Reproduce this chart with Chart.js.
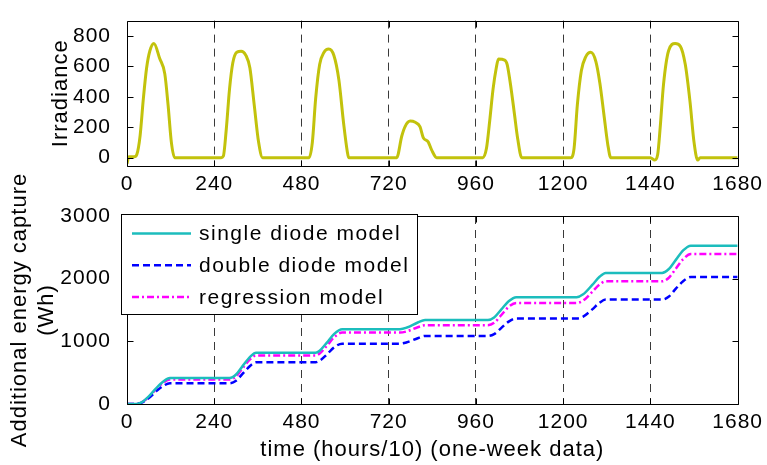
<!DOCTYPE html>
<html>
<head>
<meta charset="utf-8">
<script src="https://cdn.jsdelivr.net/npm/chart.js@4.4.0/dist/chart.umd.min.js"></script>
<style>
    body { margin: 0; background: #fff; }
    #wrap { position: relative; width: 767px; height: 465px; }
    #irrChart { position: absolute; left: 0; top: 0; }
    #energyChart { position: absolute; left: 0; top: 140px; }
</style>
</head>
<body>
<div id="wrap">
    <canvas id="irrChart" width="767" height="200"></canvas>
    <canvas id="energyChart" width="767" height="325"></canvas>
</div>
<script>
// irradiance (top plot), one week at 6 minute steps
const irrTime = [0, 5, 20, 27, 36, 45, 54, 63, 74, 90, 104, 113, 122, 131,
    259, 265, 273, 282, 291, 302, 314, 327, 338, 350, 362, 373,
    501, 510, 519, 530, 542, 555, 569, 583, 596, 606, 610,
    742, 756, 765, 779, 793, 806, 815, 829, 838, 852,
    979, 989, 998, 1007, 1016, 1022, 1039, 1046, 1057, 1066, 1075, 1086,
    1221, 1230, 1239, 1250, 1262, 1276, 1290, 1301, 1312, 1323, 1331,
    1440, 1452, 1460, 1467, 1476, 1490, 1508, 1522, 1536, 1549, 1560, 1570, 1577, 1680];
const irrValue = [-40, 5, 5, 20, 143, 387, 590, 702, 750, 651, 550, 346, 102, 0,
    0, 10, 183, 448, 621, 692, 699, 672, 590, 346, 102, 0,
    0, 102, 387, 611, 692, 713, 672, 509, 224, 41, 0,
    0, 142, 204, 240, 232, 204, 132, 102, 51, 0,
    0, 61, 244, 448, 590, 647, 641, 611, 448, 285, 122, 0,
    0, 61, 346, 570, 662, 692, 631, 489, 285, 82, 0,
    0, -16, 20, 200, 480, 702, 749, 733, 611, 366, 102, -16, 0, 0];

// additional energy capture (bottom plot)
const energyTime = [0, 20, 30, 45, 60, 80, 100, 118,
    282, 300, 320, 340, 355,
    519, 530, 550, 570, 592,
    751, 770, 800, 820,
    993, 1010, 1030, 1050, 1071,
    1237, 1255, 1280, 1300, 1317,
    1472, 1490, 1510, 1530, 1551,
    1680];
const singleDiode = [0, 0, 5, 45, 120, 250, 360, 414,
    414, 470, 620, 760, 817,
    817, 850, 980, 1120, 1194,
    1194, 1220, 1300, 1339,
    1339, 1380, 1510, 1640, 1705,
    1705, 1750, 1900, 2030, 2092,
    2092, 2150, 2300, 2450, 2527,
    2527];
const doubleDiode = [0, 0, 4, 35, 95, 200, 290, 330,
    330, 370, 495, 615, 666,
    666, 690, 790, 905, 963,
    963, 985, 1050, 1086,
    1086, 1115, 1215, 1315, 1366,
    1366, 1395, 1510, 1615, 1666,
    1666, 1710, 1840, 1960, 2027,
    2027];
const regression = [0, 0, 5, 42, 112, 235, 340, 390,
    390, 440, 585, 720, 774,
    774, 805, 930, 1065, 1140,
    1140, 1160, 1225, 1258,
    1258, 1295, 1420, 1550, 1613,
    1613, 1650, 1790, 1905, 1957,
    1957, 2010, 2160, 2310, 2392,
    2392];

const xTicks = [0, 240, 480, 720, 960, 1200, 1440, 1680];
const irrTicks = [0, 200, 400, 600, 800];
const energyTicks = [0, 1000, 2000, 3000];

const FONT = '"Liberation Sans", Arial, sans-serif';
Chart.defaults.font.family = FONT;
Chart.defaults.color = '#000';

function pts(xs, ys) {
    return xs.map((x, i) => ({ x: x, y: ys[i] }));
}

// matlab text is a bit wider than arial, add some letter spacing
const spacing = {
    id: 'spacing',
    beforeDraw(chart) {
        chart.ctx.letterSpacing = '1px';
    }
};

// box round the plot plus small inward ticks
const framePlugin = {
    id: 'frame',
    afterDraw(chart) {
        const { ctx, chartArea: a, scales } = chart;
        const l = Math.round(a.left) + 0.5, r = Math.round(a.right) + 0.5;
        const t = Math.round(a.top) + 0.5, b = Math.round(a.bottom) + 0.5;
        ctx.save();
        ctx.strokeStyle = '#000';
        ctx.lineWidth = 1;
        ctx.beginPath();
        ctx.rect(l, t, r - l, b - t);
        scales.y.ticks.forEach(tk => {
            const py = Math.round(scales.y.getPixelForValue(tk.value)) + 0.5;
            ctx.moveTo(l, py); ctx.lineTo(l + 6, py);
            ctx.moveTo(r, py); ctx.lineTo(r - 6, py);
        });
        scales.x.ticks.forEach(tk => {
            const px = Math.round(scales.x.getPixelForValue(tk.value)) + 0.5;
            ctx.moveTo(px, b); ctx.lineTo(px, b - 6);
            ctx.moveTo(px, t); ctx.lineTo(px, t + 6);
        });
        ctx.stroke();
        ctx.restore();
    }
};

// legend in a white box over the upper left corner
const boxLegend = {
    id: 'boxLegend',
    afterDraw(chart) {
        const { ctx, chartArea: a } = chart;
        const x0 = Math.round(a.left) - 6, y0 = Math.round(a.top) - 2;
        const w = 296, h = 100;
        ctx.save();
        ctx.fillStyle = '#fff';
        ctx.fillRect(x0, y0, w, h);
        ctx.strokeStyle = '#000';
        ctx.lineWidth = 1;
        ctx.strokeRect(x0 + 0.5, y0 + 0.5, w, h);
        chart.data.datasets.forEach((ds, i) => {
            const cy = y0 + 19.5 + i * 31.7;
            ctx.beginPath();
            ctx.setLineDash(ds.borderDash || []);
            ctx.strokeStyle = ds.borderColor;
            ctx.lineWidth = ds.borderWidth;
            ctx.moveTo(x0 + 11, cy);
            ctx.lineTo(x0 + 70, cy);
            ctx.stroke();
            ctx.setLineDash([]);
            ctx.fillStyle = '#000';
            ctx.font = '21px ' + FONT;
            ctx.letterSpacing = '1.5px';
            ctx.textBaseline = 'middle';
            ctx.fillText(ds.label, x0 + 78, cy + 1);
        });
        ctx.restore();
    }
};

function xScale(height, title) {
    return {
        type: 'linear',
        min: 0,
        max: 1680,
        afterBuildTicks: s => { s.ticks = xTicks.map(v => ({ value: v })); },
        afterFit: s => { s.height = height; },
        ticks: { font: { size: 21 }, padding: 6, maxRotation: 0, autoSkip: false, callback: v => String(v) },
        grid: {
            drawTicks: false,
            lineWidth: 1,
            color: c => (c.tick && c.tick.value > 0 && c.tick.value < 1680) ? '#3a3a3a' : 'rgba(0,0,0,0)'
        },
        border: { display: false, dash: [8, 6] },
        title: title
    };
}

function yScale(min, max, ticks, title) {
    return {
        type: 'linear',
        min: min,
        max: max,
        afterBuildTicks: s => { s.ticks = ticks.map(v => ({ value: v })); },
        afterFit: s => { s.width = 127; },
        ticks: { font: { size: 21 }, padding: 8, callback: v => String(v) },
        grid: { display: false },
        border: { display: false },
        title: title
    };
}

const irrChart = new Chart(document.getElementById('irrChart'), {
    type: 'line',
    data: {
        datasets: [{
            label: 'Irradiance',
            data: pts(irrTime, irrValue),
            borderColor: '#c2c20c',
            borderWidth: 3,
            pointRadius: 0,
            cubicInterpolationMode: 'monotone',
            fill: false
        }]
    },
    options: {
        responsive: false,
        animation: false,
        layout: { padding: { top: 9, right: 26, left: 0, bottom: 0 } },
        plugins: { legend: { display: false }, tooltip: { enabled: false } },
        scales: {
            x: xScale(34, { display: false }),
            y: yScale(-55, 900, irrTicks, {
                display: true,
                text: 'Irradiance',
                font: { size: 22 },
                padding: { top: 48, bottom: 0 }
            })
        }
    },
    plugins: [spacing, framePlugin]
});

const energyChart = new Chart(document.getElementById('energyChart'), {
    type: 'line',
    data: {
        datasets: [{
            label: 'single diode model',
            data: pts(energyTime, singleDiode),
            borderColor: '#1cbdbd',
            borderWidth: 2.5,
            pointRadius: 0,
            cubicInterpolationMode: 'monotone'
        }, {
            label: 'double diode model',
            data: pts(energyTime, doubleDiode),
            borderColor: '#0000ff',
            borderWidth: 2.5,
            borderDash: [7, 4],
            pointRadius: 0,
            cubicInterpolationMode: 'monotone'
        }, {
            label: 'regression model',
            data: pts(energyTime, regression),
            borderColor: '#ff00ff',
            borderWidth: 2.5,
            borderDash: [7, 3, 2, 3],
            pointRadius: 0,
            cubicInterpolationMode: 'monotone'
        }]
    },
    options: {
        responsive: false,
        animation: false,
        layout: { padding: { top: 76, right: 26, left: 0, bottom: 0 } },
        plugins: { legend: { display: false }, tooltip: { enabled: false } },
        scales: {
            x: xScale(61, {
                display: true,
                text: 'time (hours/10) (one-week data)',
                font: { size: 22 },
                padding: { top: 0, bottom: 2 }
            }),
            y: yScale(0, 3000, energyTicks, {
                display: true,
                text: ['Additional energy capture', '(Wh)'],
                font: { size: 22, lineHeight: 1.25 },
                padding: { top: 6, bottom: 0 }
            })
        }
    },
    plugins: [spacing, framePlugin, boxLegend]
});
</script>
</body>
</html>
